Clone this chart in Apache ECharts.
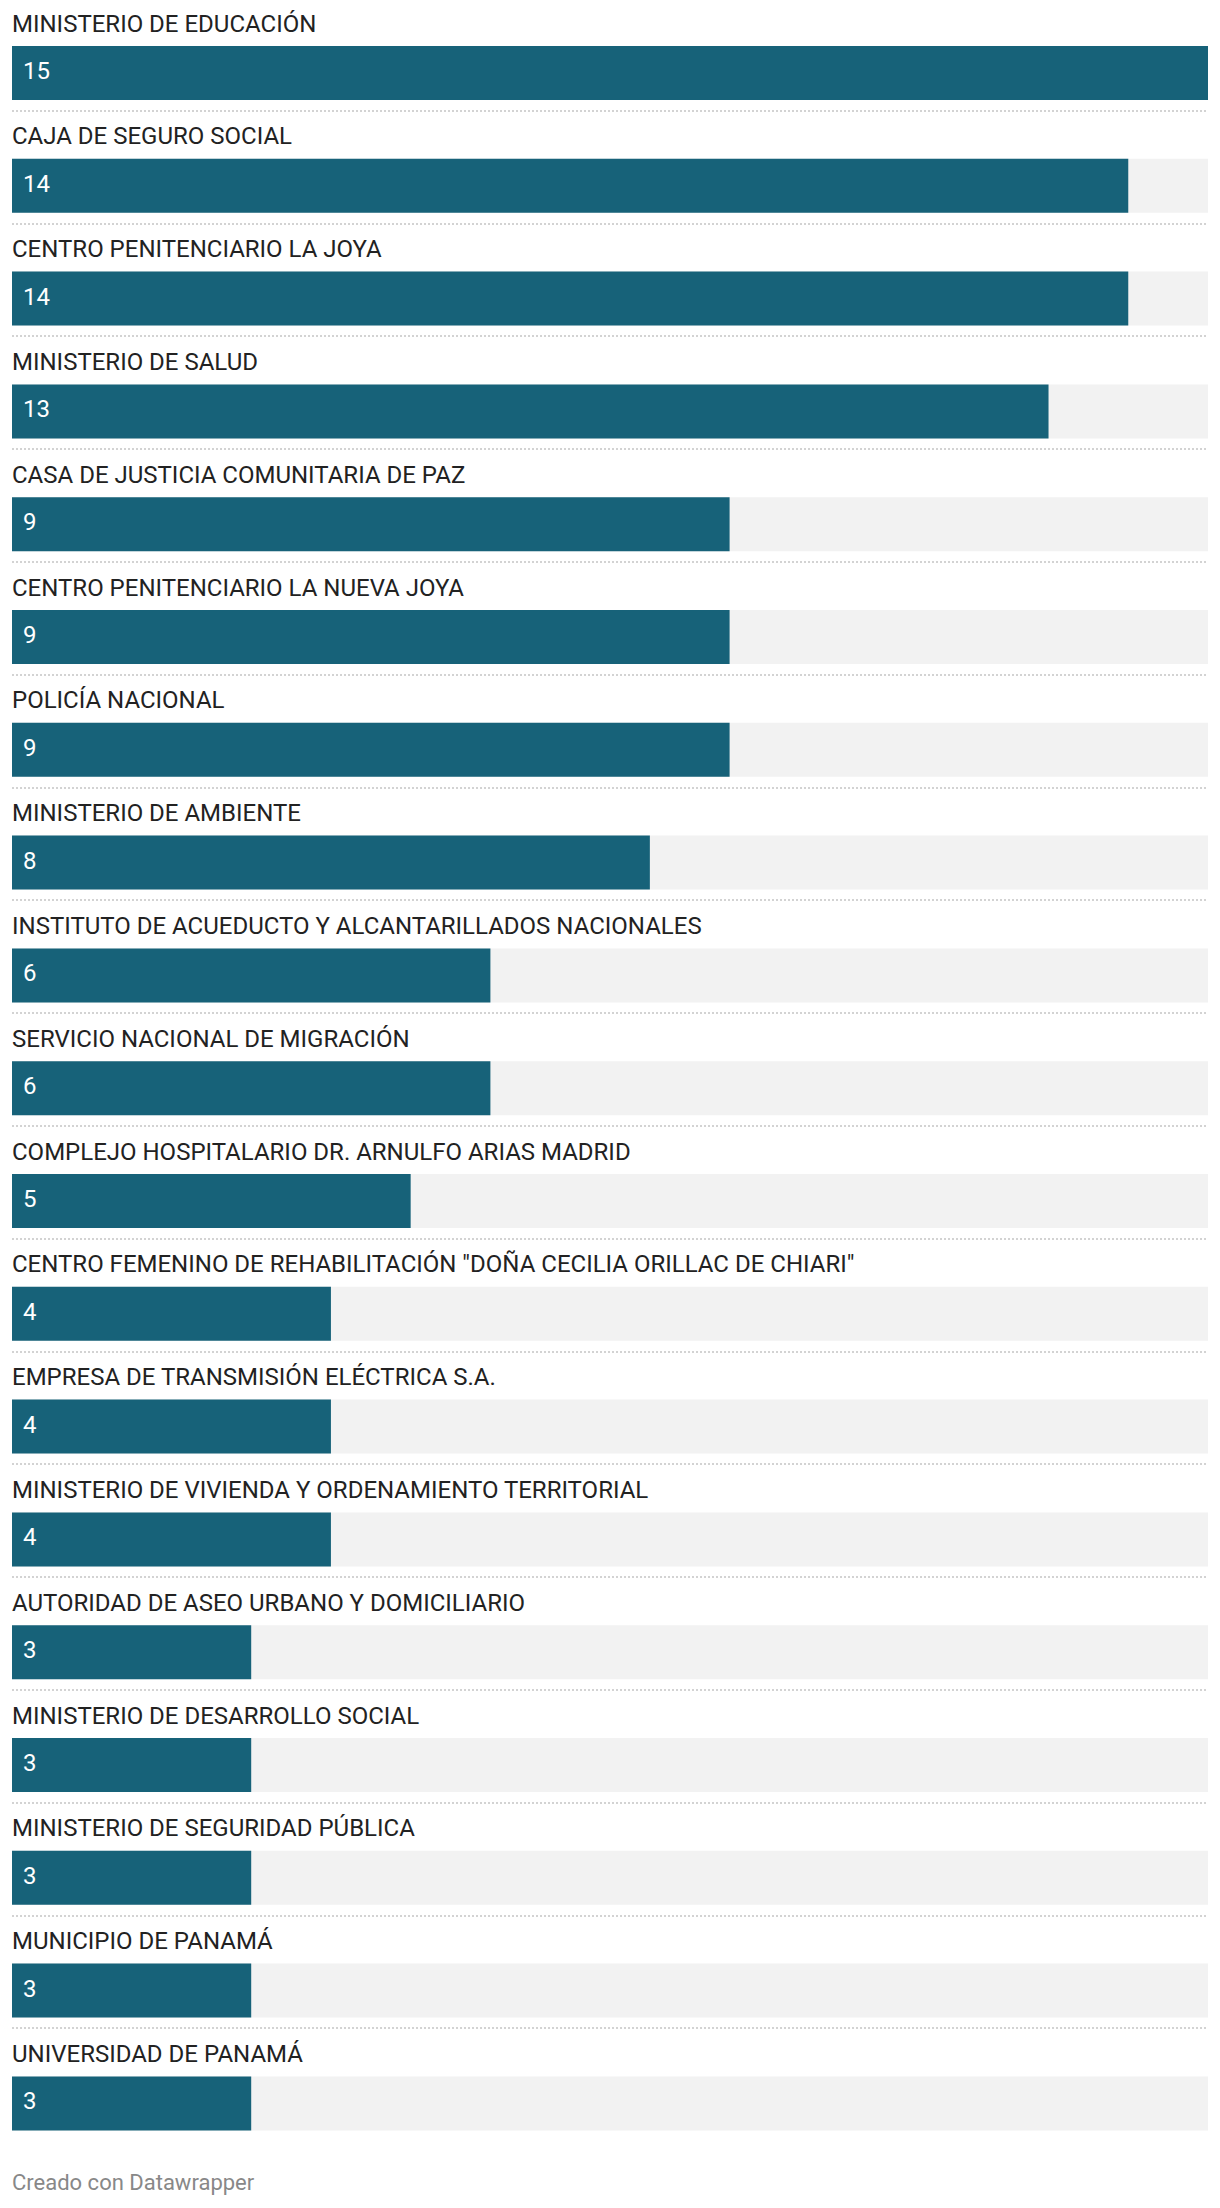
<!DOCTYPE html>
<html>
<head>
<meta charset="utf-8">
<script src="https://cdn.jsdelivr.net/npm/echarts@6/dist/echarts.min.js"></script>
<style>
html,body{margin:0;padding:0;background:#fff;}
#chart{width:1220px;height:2208px;}
</style>
</head>
<body>
<div id="chart"></div>
<script>
const categories = [
  "MINISTERIO DE EDUCACIÓN",
  "CAJA DE SEGURO SOCIAL",
  "CENTRO PENITENCIARIO LA JOYA",
  "MINISTERIO DE SALUD",
  "CASA DE JUSTICIA COMUNITARIA DE PAZ",
  "CENTRO PENITENCIARIO LA NUEVA JOYA",
  "POLICÍA NACIONAL",
  "MINISTERIO DE AMBIENTE",
  "INSTITUTO DE ACUEDUCTO Y ALCANTARILLADOS NACIONALES",
  "SERVICIO NACIONAL DE MIGRACIÓN",
  "COMPLEJO HOSPITALARIO DR. ARNULFO ARIAS MADRID",
  "CENTRO FEMENINO DE REHABILITACIÓN \"DOÑA CECILIA ORILLAC DE CHIARI\"",
  "EMPRESA DE TRANSMISIÓN ELÉCTRICA S.A.",
  "MINISTERIO DE VIVIENDA Y ORDENAMIENTO TERRITORIAL",
  "AUTORIDAD DE ASEO URBANO Y DOMICILIARIO",
  "MINISTERIO DE DESARROLLO SOCIAL",
  "MINISTERIO DE SEGURIDAD PÚBLICA",
  "MUNICIPIO DE PANAMÁ",
  "UNIVERSIDAD DE PANAMÁ"
];
const values = [15, 14, 14, 13, 9, 9, 9, 8, 6, 6, 5, 4, 4, 4, 3, 3, 3, 3, 3];
const xMax = 15;
const footerText = "Creado con Datawrapper";

const FONT = "Roboto";
const PITCH = 112.8;
const N = categories.length;
const barCenter0 = 73;
const sep0 = 110.6;

const chart = echarts.init(document.getElementById('chart'), null, {renderer: 'svg'});
chart.setOption({
  animation: false,
  backgroundColor: '#ffffff',
  title: {
    text: footerText,
    left: 12,
    top: 2171,
    padding: 0,
    textStyle: {fontFamily: FONT, fontSize: 22, fontWeight: 'normal', color: '#888888'}
  },
  grid: [
    {left: 12, right: 12, top: barCenter0 - PITCH / 2, height: PITCH * N, containLabel: false, outerBoundsMode: 'none'},
    {left: 12, right: 12, top: sep0 - PITCH, height: PITCH * N, containLabel: false, outerBoundsMode: 'none'}
  ],
  xAxis: [
    {type: 'value', gridIndex: 0, min: 0, max: xMax, show: false},
    {type: 'value', gridIndex: 1, min: 0, max: xMax, show: false}
  ],
  yAxis: [
    {
      type: 'category', gridIndex: 0, data: categories, inverse: true,
      axisLine: {show: false}, axisTick: {show: false}, splitLine: {show: false},
      axisLabel: {
        inside: true, margin: 0, align: 'left', verticalAlign: 'bottom',
        lineHeight: 99, interval: 0,
        fontFamily: FONT, fontSize: 24, color: '#222222'
      }
    },
    {
      type: 'category', gridIndex: 1, data: categories, inverse: true,
      axisLine: {show: false}, axisTick: {show: false}, axisLabel: {show: false},
      splitLine: {
        show: true, showMinLine: false, showMaxLine: false, interval: 0,
        lineStyle: {color: '#d3d3d3', width: 2, type: [2, 2]}
      }
    }
  ],
  series: [{
    type: 'bar',
    xAxisIndex: 0, yAxisIndex: 0,
    data: values,
    barWidth: 54,
    itemStyle: {color: '#176279'},
    showBackground: true,
    backgroundStyle: {color: '#f2f2f2'},
    label: {
      show: true, position: 'insideLeft', distance: 11, offset: [0, -2],
      fontFamily: FONT, fontSize: 24, color: '#ffffff'
    }
  }]
});
</script>
</body>
</html>
